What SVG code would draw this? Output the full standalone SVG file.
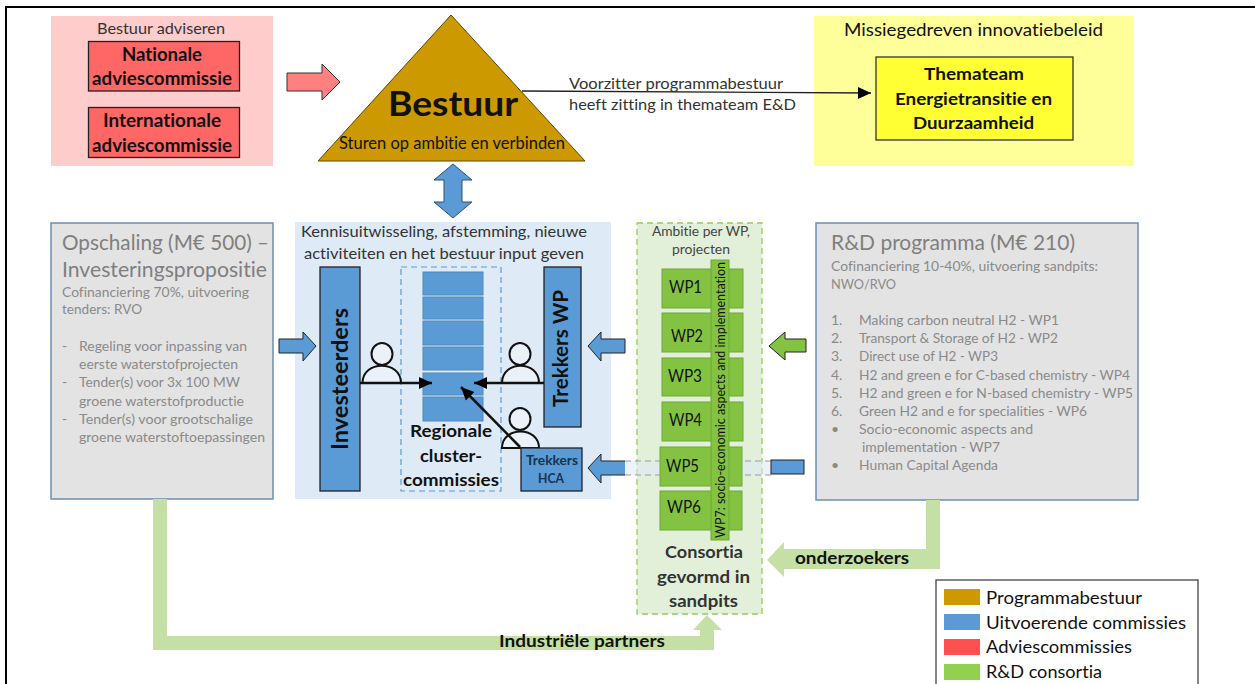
<svg xmlns="http://www.w3.org/2000/svg" width="1255" height="684" viewBox="0 0 1255 684">
<style>
text{font-family:Lato,"Liberation Sans",sans-serif;fill:#111;font-variant-ligatures:none}
.b{font-weight:700}
.g{fill:#8a8a8a;font-size:14px}
.gh{fill:#7f7f7f;font-size:21px}
.d{fill:#333;font-size:16px}
.box{stroke:#222;stroke-width:1.3}
.red{fill:#ff6666}
.blue{fill:#5b9bd5}
.wp{fill:#84c341;stroke:#6fa838;stroke-width:1}
.wt{font-size:17px}
.row{fill:#5b9bd5;stroke:#4f88bd;stroke-width:1}
.grey{fill:#e3e3e3;stroke:#6a8fb5;stroke-width:1.5}
.band{fill:#c5e0a5}
.person{fill:#eaf1f9;stroke:#111;stroke-width:2}
.arr{fill:none;stroke:#111;stroke-width:2.5}
.lg{font-size:17.5px}
</style>
<defs>
<marker id="ah" markerUnits="userSpaceOnUse" markerWidth="14" markerHeight="14" refX="13" refY="7" orient="auto"><path d="M0 1 L13 7 L0 13 Z" fill="#000"/></marker>
</defs>
<g id="frame"><path d="M6 684V7H1255" fill="none" stroke="#000" stroke-width="2"/></g>

<g id="advies">
<rect x="51" y="16" width="222" height="150" fill="#ffcccc"/>
<text x="97" y="34" class="d" textLength="128" lengthAdjust="spacingAndGlyphs">Bestuur adviseren</text>
</g>
<g id="nationale">
<rect x="88.5" y="41.5" width="151" height="49.5" class="red box"/>
<text x="122" y="61" font-size="18" class="b" textLength="80" lengthAdjust="spacingAndGlyphs">Nationale</text>
<text x="92" y="85" font-size="18" class="b" textLength="140" lengthAdjust="spacingAndGlyphs">adviescommissie</text>
</g>
<g id="internationale">
<rect x="88.5" y="107.5" width="151" height="50" class="red box"/>
<text x="103" y="127" font-size="18" class="b" textLength="118" lengthAdjust="spacingAndGlyphs">Internationale</text>
<text x="92" y="152" font-size="18" class="b" textLength="140" lengthAdjust="spacingAndGlyphs">adviescommissie</text>
</g>
<g id="bestuur">
<path d="M451 15 L585 161 H318 Z" fill="#cc9900" stroke="#5c4700" stroke-width="1"/>
<text x="388" y="116" font-size="34" class="b" textLength="130" lengthAdjust="spacingAndGlyphs">Bestuur</text>
<text x="339" y="149" font-size="17" textLength="226" lengthAdjust="spacingAndGlyphs">Sturen op ambitie en verbinden</text>
</g>
<g id="missie">
<rect x="814" y="16" width="320" height="150" fill="#ffff99"/>
<text x="844" y="36" font-size="18" fill="#222" textLength="259" lengthAdjust="spacingAndGlyphs">Missiegedreven innovatiebeleid</text>
</g>
<g id="themateam">
<rect x="876" y="57" width="197" height="83" fill="#ffff33" stroke="#333" stroke-width="1.3"/>
<text x="924" y="80" font-size="17" class="b" textLength="100" lengthAdjust="spacingAndGlyphs">Themateam</text>
<text x="895" y="105" font-size="17" class="b" textLength="157" lengthAdjust="spacingAndGlyphs">Energietransitie en</text>
<text x="913" y="129" font-size="17" class="b" textLength="121" lengthAdjust="spacingAndGlyphs">Duurzaamheid</text>
</g>

<g id="opschaling">
<rect x="51" y="223" width="222" height="276" class="grey"/>
<text x="62" y="250" class="gh" textLength="207" lengthAdjust="spacingAndGlyphs">Opschaling (M€ 500) –</text>
<text x="62" y="277" class="gh" textLength="205" lengthAdjust="spacingAndGlyphs">Investeringspropositie</text>
<text x="62" y="297" class="g" textLength="187" lengthAdjust="spacingAndGlyphs">Cofinanciering 70%, uitvoering</text>
<text x="62" y="314" class="g" textLength="80" lengthAdjust="spacingAndGlyphs">tenders: RVO</text>
<text x="62" y="351" class="g">-</text>
<text x="79" y="351" class="g" textLength="168" lengthAdjust="spacingAndGlyphs">Regeling voor inpassing van</text>
<text x="79" y="369" class="g" textLength="159" lengthAdjust="spacingAndGlyphs">eerste waterstofprojecten</text>
<text x="62" y="387" class="g">-</text>
<text x="79" y="387" class="g" textLength="161" lengthAdjust="spacingAndGlyphs">Tender(s) voor 3x 100 MW</text>
<text x="79" y="406" class="g" textLength="165" lengthAdjust="spacingAndGlyphs">groene waterstofproductie</text>
<text x="62" y="424" class="g">-</text>
<text x="79" y="424" class="g" textLength="174" lengthAdjust="spacingAndGlyphs">Tender(s) voor grootschalige</text>
<text x="79" y="442" class="g" textLength="186" lengthAdjust="spacingAndGlyphs">groene waterstoftoepassingen</text>
</g>

<g id="midpanel">
<rect x="295" y="222" width="316" height="277" fill="#deeaf6"/>
<text x="301" y="237" class="d" textLength="286" lengthAdjust="spacingAndGlyphs">Kennisuitwisseling, afstemming, nieuwe</text>
<text x="304" y="259" class="d" textLength="280" lengthAdjust="spacingAndGlyphs">activiteiten en het bestuur input geven</text>
</g>
<g id="investeerders">
<rect x="320" y="267" width="40" height="224" class="blue box"/>
<text transform="translate(348 450) rotate(-90)" font-size="22" class="b" textLength="142" lengthAdjust="spacingAndGlyphs">Investeerders</text>
</g>
<g id="regionale">
<rect x="401" y="267" width="100" height="224" fill="none" stroke="#5b9bd5" stroke-width="1.2" stroke-dasharray="6 4"/>
<rect x="423" y="272" width="60" height="23" class="row"/>
<rect x="423" y="297" width="60" height="22" class="row"/>
<rect x="423" y="321" width="60" height="24" class="row"/>
<rect x="423" y="347" width="60" height="23" class="row"/>
<rect x="423" y="373" width="60" height="22" class="row"/>
<rect x="423" y="397" width="60" height="24" class="row"/>
<text x="410" y="437" font-size="17" class="b" textLength="82" lengthAdjust="spacingAndGlyphs">Regionale</text>
<text x="420" y="462" font-size="17" class="b" textLength="62" lengthAdjust="spacingAndGlyphs">cluster-</text>
<text x="403" y="486" font-size="17" class="b" textLength="96" lengthAdjust="spacingAndGlyphs">commissies</text>
</g>
<g id="trekkerswp">
<rect x="544" y="267" width="37" height="160" class="blue box"/>
<text transform="translate(568 407) rotate(-90)" font-size="20" class="b" textLength="117" lengthAdjust="spacingAndGlyphs">Trekkers WP</text>
</g>
<g id="person1"><ellipse cx="382" cy="354" rx="10.5" ry="11" class="person"/><path d="M362.5 383 C362.5 360 401 360 401 383" class="person"/></g>
<g id="person2"><ellipse cx="520" cy="354" rx="10.5" ry="11" class="person"/><path d="M502 383 C502 360 539 360 539 383" class="person"/></g>
<g id="person3"><ellipse cx="520" cy="419" rx="10.5" ry="11" class="person"/><path d="M502 448 C502 426 539 426 539 448 Z" class="person"/></g>
<g id="trekkershca">
<rect x="521" y="448" width="61" height="43" class="blue box"/>
<text x="526" y="465" font-size="13" class="b" style="fill:#16324f" textLength="52" lengthAdjust="spacingAndGlyphs">Trekkers</text>
<text x="538" y="483" font-size="13" class="b" style="fill:#16324f" textLength="26" lengthAdjust="spacingAndGlyphs">HCA</text>
</g>

<g id="rdrd">
<rect x="816" y="223" width="322" height="277" class="grey"/>
<text x="831" y="250" class="gh" textLength="244" lengthAdjust="spacingAndGlyphs">R&amp;D programma (M€ 210)</text>
<text x="831" y="271" class="g" textLength="267" lengthAdjust="spacingAndGlyphs">Cofinanciering 10-40%, uitvoering sandpits:</text>
<text x="831" y="289" class="g" textLength="65" lengthAdjust="spacingAndGlyphs">NWO/RVO</text>
<text x="831" y="325" class="g">1.</text><text x="859" y="325" class="g" textLength="200" lengthAdjust="spacingAndGlyphs">Making carbon neutral H2 - WP1</text>
<text x="831" y="343" class="g">2.</text><text x="859" y="343" class="g" textLength="199" lengthAdjust="spacingAndGlyphs">Transport &amp; Storage of H2 - WP2</text>
<text x="831" y="361" class="g">3.</text><text x="859" y="361" class="g" textLength="139" lengthAdjust="spacingAndGlyphs">Direct use of H2 - WP3</text>
<text x="831" y="380" class="g">4.</text><text x="859" y="380" class="g" textLength="271" lengthAdjust="spacingAndGlyphs">H2 and green e for C-based chemistry - WP4</text>
<text x="831" y="398" class="g">5.</text><text x="859" y="398" class="g" textLength="274" lengthAdjust="spacingAndGlyphs">H2 and green e for N-based chemistry - WP5</text>
<text x="831" y="416" class="g">6.</text><text x="859" y="416" class="g" textLength="228" lengthAdjust="spacingAndGlyphs">Green H2 and e for specialities - WP6</text>
<text x="831" y="434" class="g">•</text><text x="859" y="434" class="g" textLength="174" lengthAdjust="spacingAndGlyphs">Socio-economic aspects and</text>
<text x="862" y="452" class="g" textLength="138" lengthAdjust="spacingAndGlyphs">implementation - WP7</text>
<text x="831" y="470" class="g">•</text><text x="859" y="470" class="g" textLength="139" lengthAdjust="spacingAndGlyphs">Human Capital Agenda</text>
</g>

<g id="legend">
<rect x="936" y="580" width="262" height="110" fill="#fff" stroke="#444" stroke-width="1.3"/>
<rect x="944" y="589" width="36" height="16" fill="#cc9900"/>
<rect x="944" y="614" width="36" height="16" fill="#5b9bd5"/>
<rect x="944" y="639" width="36" height="16" fill="#ff5050"/>
<rect x="944" y="664" width="36" height="16" fill="#92d050"/>
<text x="986" y="604" class="lg" textLength="156" lengthAdjust="spacingAndGlyphs">Programmabestuur</text>
<text x="986" y="629" class="lg" textLength="200" lengthAdjust="spacingAndGlyphs">Uitvoerende commissies</text>
<text x="986" y="653" class="lg" textLength="146" lengthAdjust="spacingAndGlyphs">Adviescommissies</text>
<text x="986" y="678" class="lg" textLength="116" lengthAdjust="spacingAndGlyphs">R&amp;D consortia</text>
</g>

<g id="consortia">
<rect x="637" y="223" width="125" height="391" fill="#e2f0d9" stroke="#92d050" stroke-width="1.3" stroke-dasharray="6 4"/>
<text x="652" y="236" font-size="13.5" style="fill:#444" textLength="98" lengthAdjust="spacingAndGlyphs">Ambitie per WP,</text>
<text x="672" y="254" font-size="13.5" style="fill:#444" textLength="58" lengthAdjust="spacingAndGlyphs">projecten</text>
<text x="665" y="558" font-size="17" class="b" style="fill:#333" textLength="78" lengthAdjust="spacingAndGlyphs">Consortia</text>
<text x="657" y="583" font-size="17" class="b" style="fill:#333" textLength="93" lengthAdjust="spacingAndGlyphs">gevormd in</text>
<text x="669" y="607" font-size="17" class="b" style="fill:#333" textLength="69" lengthAdjust="spacingAndGlyphs">sandpits</text>
</g>

<g id="connectors">
<path d="M287 73 H322 V64 L340 82 L322 100 V91 H287 Z" fill="#ff8080" stroke="#333" stroke-width="1"/>
<path d="M522 91 L871 93" stroke="#222" stroke-width="1.3" fill="none" marker-end="url(#ah)"/>
<path d="M453 164 L472 180 H462 V202 H472 L453 218 L434 202 H444 V180 H434 Z" fill="#5b9bd5" stroke="#2d4f70" stroke-width="1"/>
<path d="M279 339 H303 V332 L316 346 L303 361 V353 H279 Z" class="blue" stroke="#222" stroke-width="1"/>
<path d="M625 339 H601 V332 L588 346 L601 361 V353 H625 Z" class="blue" stroke="#222" stroke-width="1"/>
<path d="M806 339 H785 V332 L769 346 L785 360 V352 H806 Z" fill="#84c341" stroke="#222" stroke-width="1"/>
<path d="M625 461 H601 V454 L588 468 L601 483 V475 H625" class="blue" stroke="#222" stroke-width="1"/>
<rect x="625" y="461" width="146" height="14" fill="#deeaf6" fill-opacity=".55"/>
<path d="M625 461 H771 M625 475 H771" stroke="#999" stroke-width="1" stroke-dasharray="6 4" fill="none"/>
<rect x="771" y="460" width="33" height="14" class="blue" stroke="#222" stroke-width="1"/>
<path d="M153 499 H167 V636 H700 V630 H693 L707 615 L722 630 H714 V650 H153 Z" class="band"/>
<path d="M926 500 H940 V569 H784 V577 L767 560 L784 542 V549 H926 Z" class="band"/>
<path d="M360 383 H432" class="arr" marker-end="url(#ah)"/>
<path d="M544 383 H474" class="arr" marker-end="url(#ah)"/>
<path d="M520 447 L461 387" class="arr" marker-end="url(#ah)"/>
<text x="795" y="564" font-size="17" class="b" textLength="114" lengthAdjust="spacingAndGlyphs">onderzoekers</text>
<text x="499" y="647" font-size="17" class="b" textLength="166" lengthAdjust="spacingAndGlyphs">Industriële partners</text>
<text x="569" y="89" class="d" textLength="214" lengthAdjust="spacingAndGlyphs">Voorzitter programmabestuur</text>
<text x="569" y="110" class="d" textLength="227" lengthAdjust="spacingAndGlyphs">heeft zitting in themateam E&amp;D</text>
</g>

<g id="wp1"><rect x="662" y="269" width="81" height="39" class="wp"/><text x="669" y="293" class="wt" textLength="33" lengthAdjust="spacingAndGlyphs">WP1</text></g>
<g id="wp2"><rect x="662" y="313" width="81" height="39" class="wp"/><text x="671" y="342" class="wt" textLength="32" lengthAdjust="spacingAndGlyphs">WP2</text></g>
<g id="wp3"><rect x="662" y="358" width="81" height="38" class="wp"/><text x="668" y="382" class="wt" textLength="34" lengthAdjust="spacingAndGlyphs">WP3</text></g>
<g id="wp4"><rect x="662" y="402" width="81" height="39" class="wp"/><text x="669" y="426" class="wt" textLength="33" lengthAdjust="spacingAndGlyphs">WP4</text></g>
<g id="wp5"><rect x="660" y="447" width="82" height="39" class="wp"/><text x="666" y="472" class="wt" textLength="33" lengthAdjust="spacingAndGlyphs">WP5</text></g>
<g id="wp6"><rect x="660" y="491" width="82" height="39" class="wp"/><text x="667" y="513" class="wt" textLength="34" lengthAdjust="spacingAndGlyphs">WP6</text></g>
<g id="wp7"><rect x="711" y="260" width="18" height="280" class="wp"/><text transform="translate(725 538) rotate(-90)" font-size="13" textLength="276" lengthAdjust="spacingAndGlyphs">WP7: socio-economic aspects and implementation</text></g>
</svg>
